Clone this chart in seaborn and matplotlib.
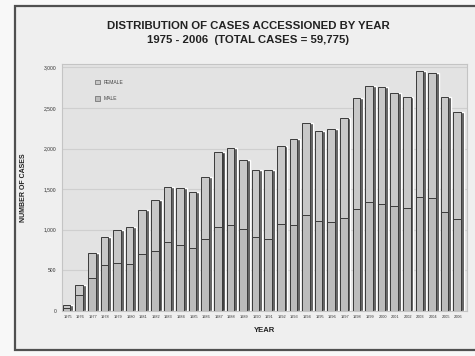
import numpy as np
import pandas as pd
import matplotlib
matplotlib.use('Agg')
import matplotlib.pyplot as plt
from matplotlib.patches import Patch, Rectangle
import seaborn as sns

# dane
years = list(range(1975, 2007))
total_cases = [70, 323, 714, 911, 1002, 1035, 1249, 1364, 1529, 1508, 1467, 1644,
               1960, 2002, 1858, 1740, 1735, 2031, 2113, 2311, 2216, 2241, 2373, 2620,
               2772, 2763, 2681, 2640, 2957, 2928, 2640, 2447]
male_cases = [40, 200, 410, 570, 590, 582, 697, 740, 850, 809, 776, 891,
              1035, 1064, 1015, 911, 883, 1068, 1055, 1187, 1105, 1097, 1150, 1261,
              1340, 1323, 1294, 1270, 1405, 1393, 1216, 1130]
legend_labels = ['FEMALE', 'MALE']
y_ticks = [0, 500, 1000, 1500, 2000, 2500, 3000]

df = pd.DataFrame({'rok': [str(y) for y in years], 'razem': total_cases, 'mezczyzni': male_cases})

sns.set_style('white')
plt.rcParams['font.family'] = ['Liberation Sans', 'DejaVu Sans']

female_col = '#c8c8c8'
male_col = '#bcbcbc'
edge_col = '#3a3a3a'

fig = plt.figure(figsize=(4.75, 3.56), dpi=100)
fig.patch.set_facecolor('#f8f8f8')

# panel z ramka
panel = Rectangle((15 / 475, 6 / 356), 1.0, 344 / 356, transform=fig.transFigure,
                  facecolor='#efefef', edgecolor='#505050', linewidth=1.6, zorder=-1)
fig.patches.append(panel)

ax = fig.add_axes([62 / 475, 1 - 311 / 356, 405 / 475, 247 / 356])
ax.set_facecolor('#e3e3e3')

x = np.arange(len(years))
# boczne scianki (efekt 3D)
ax.bar(x + 0.33, df['razem'], width=0.24, color='#424242', zorder=2)
sns.barplot(data=df, x='rok', y='razem', color=female_col, width=0.6,
            edgecolor=edge_col, linewidth=0.7, saturation=1, ax=ax, zorder=3)
sns.barplot(data=df, x='rok', y='mezczyzni', color=male_col, width=0.6,
            edgecolor=edge_col, linewidth=0.7, saturation=1, ax=ax, zorder=4)
for p in ax.patches[len(years):]:
    p.set_x(p.get_x() - 0.08)

ax.set_xlim(-0.45, len(years) - 0.3)
ax.set_ylim(0, 3040)
ax.set_yticks(y_ticks)
ax.set_yticklabels([f'{v:,}' for v in y_ticks])
ax.yaxis.grid(True, color='#cfcfcf', linewidth=0.8)
ax.set_axisbelow(True)
ax.tick_params(axis='y', labelsize=3.6, length=2, width=0.5, color='#888888', pad=2, labelcolor='#333333')
ax.tick_params(axis='x', labelsize=2.8, length=0, pad=3, labelcolor='#333333')
for s in ax.spines.values():
    s.set_color('#c4c4c4')
    s.set_linewidth(0.8)

ax.set_xlabel('YEAR', fontsize=5.5, fontweight='bold', color='#222222', labelpad=6)
ax.set_ylabel('NUMBER OF CASES', fontsize=5, fontweight='bold', color='#222222', labelpad=12)

handles = [Patch(facecolor=female_col, edgecolor='#777777', linewidth=0.6),
           Patch(facecolor=male_col, edgecolor='#777777', linewidth=0.6)]
ax.legend(handles, legend_labels, loc='upper left', bbox_to_anchor=(0.07, 0.955),
          frameon=False, fontsize=3.6, handlelength=1.1, handleheight=1.1,
          labelspacing=2.3, handletextpad=0.6, labelcolor='#444444')

fig.text(0.522, 1 - 26 / 356, 'DISTRIBUTION OF CASES ACCESSIONED BY YEAR',
         ha='center', va='center', fontsize=8.2, fontweight='bold', color='#222222')
fig.text(0.522, 1 - 40 / 356, '1975 - 2006  (TOTAL CASES = 59,775)',
         ha='center', va='center', fontsize=8.2, fontweight='bold', color='#222222')

fig.savefig('out.png', dpi=100, facecolor=fig.get_facecolor())
